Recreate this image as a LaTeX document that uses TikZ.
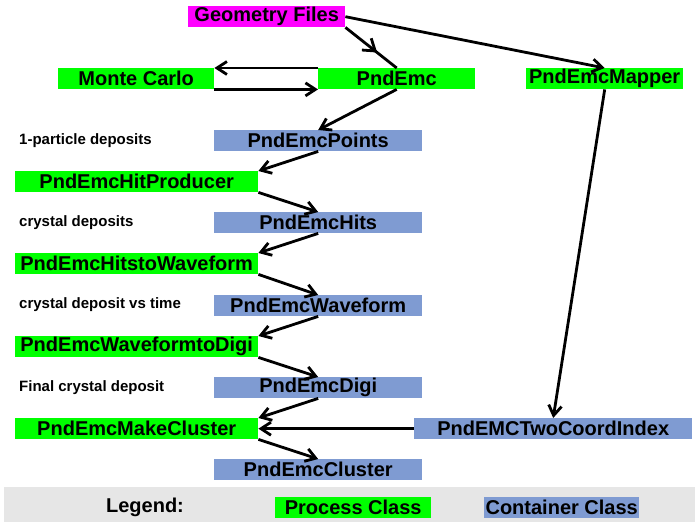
\documentclass[tikz,border=0pt]{standalone}
\usepackage{fontspec}
\setmainfont{Liberation Sans}
\usetikzlibrary{arrows.meta,decorations.markings}
\definecolor{procgreen}{RGB}{0,255,0}
\definecolor{geomag}{RGB}{255,0,255}
\definecolor{contblue}{RGB}{127,155,210}
\definecolor{legendgray}{RGB}{230,230,230}
\tikzset{
  box/.style={rectangle, inner sep=0pt, minimum height=21pt, anchor=north west,
    font=\fontsize{20}{20}\selectfont\bfseries},
  proc/.style={box, fill=procgreen},
  cont/.style={box, fill=contblue},
  geo/.style={box, fill=geomag},
  lbl/.style={anchor=west, inner sep=0pt, font=\fontsize{15}{15}\selectfont\bfseries},
  conn/.style={line width=2.8pt, -{Straight Barb[length=10pt,width=13pt]}},
  midarrow/.style={line width=2.8pt, postaction={decorate},
    decoration={markings, mark=at position 0.62 with {\arrow{Straight Barb[length=11pt,width=15pt]}}}}
}
\begin{document}
\begin{tikzpicture}[x=1pt,y=-1pt]
\useasboundingbox (0,0) rectangle (695,522);
% legend bar
\fill[legendgray] (4,487) rectangle (695,522);
\node[font=\fontsize{20}{20}\selectfont\bfseries, inner sep=0pt] (legend) at (145,507) {Legend:};
\node[proc, minimum width=156pt] (lproc) at (275,497) {Process Class};
\node[cont, minimum width=155pt] (lcont) at (484,497) {Container Class};
% boxes
\node[geo, minimum width=157pt] (geo) at (188,6) {Geometry Files};
\node[proc, minimum width=156pt] (mc) at (58,68) {Monte Carlo};
\node[proc, minimum width=157pt] (emc) at (318,68) {PndEmc};
\node[proc, minimum width=157pt] (mapper) at (526,68) {PndEmcMapper};
\node[cont, minimum width=208pt] (points) at (214,130) {PndEmcPoints};
\node[proc, minimum width=243pt] (hitprod) at (15,171) {PndEmcHitProducer};
\node[cont, minimum width=208pt] (hits) at (214,212) {PndEmcHits};
\node[proc, minimum width=243pt] (h2w) at (15,253) {PndEmcHitstoWaveform};
\node[cont, minimum width=208pt] (wave) at (214,295) {PndEmcWaveform};
\node[proc, minimum width=243pt] (w2d) at (15,336) {PndEmcWaveformtoDigi};
\node[cont, minimum width=208pt] (digi) at (214,377) {PndEmcDigi};
\node[proc, minimum width=243pt] (mk) at (15,418) {PndEmcMakeCluster};
\node[cont, minimum width=278pt] (tci) at (414,418) {PndEMCTwoCoordIndex};
\node[cont, minimum width=208pt] (clus) at (214,459) {PndEmcCluster};
% side labels
\node[lbl] (l1) at (19,140.5) {1-particle deposits};
\node[lbl] (l2) at (19,222.5) {crystal deposits};
\node[lbl] (l3) at (19,304.5) {crystal deposit vs time};
\node[lbl] (l4) at (19,387.5) {Final crystal deposit};
% connectors
\draw[midarrow] (geo.south east) -- (emc.north);
\draw[conn] (geo.east) -- (mapper.north);
\draw[conn] (emc.north west) -- (mc.north east);
\draw[conn] (mc.south east) -- (emc.south west);
\draw[conn] (emc.south) -- (points.north);
\draw[conn] (points.south) -- (hitprod.north east);
\draw[conn] (hitprod.south east) -- (hits.north);
\draw[conn] (hits.south) -- (h2w.north east);
\draw[conn] (h2w.south east) -- (wave.north);
\draw[conn] (wave.south) -- (w2d.north east);
\draw[conn] (w2d.south east) -- (digi.north);
\draw[conn] (digi.south) -- (mk.north east);
\draw[conn] (mk.south east) -- (clus.north);
\draw[conn] (mapper.south) -- (tci.north);
\draw[conn] (tci.west) -- (mk.east);
\end{tikzpicture}
\end{document}
